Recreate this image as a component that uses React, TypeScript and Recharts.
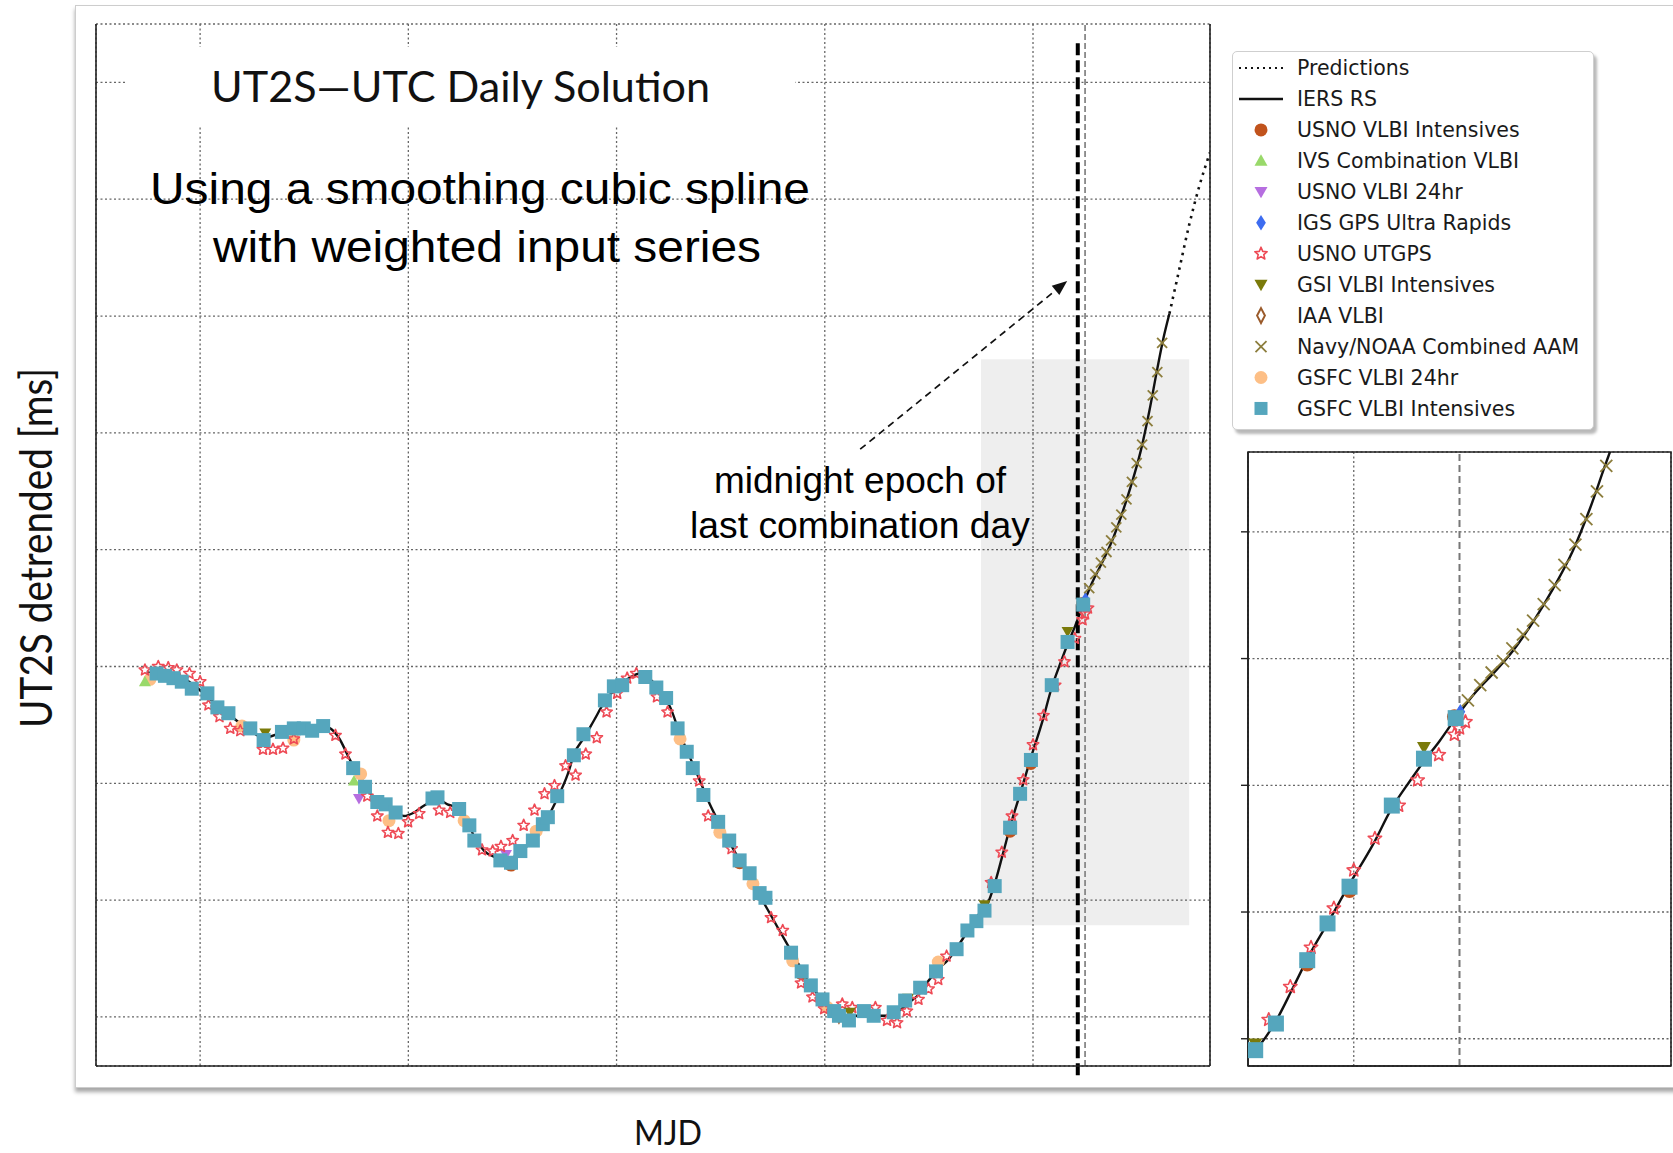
import { ComposedChart, Line, Scatter, XAxis, YAxis, CartesianGrid, ReferenceLine, ReferenceArea } from 'recharts';

type Pt = [number, number];

// MJD, UT2S detrended [ms]
const iersRs: Pt[] = [
  [58797.43, 2.95], [58799.04, 2.91], [58799.84, 2.82], [58800.48, 2.72], [58801.45, 2.58],
  [58802.41, 2.45], [58803.05, 2.39], [58804.01, 2.44], [58804.98, 2.47], [58805.94, 2.49],
  [58806.26, 2.47], [58806.66, 2.39], [58807.23, 2.19], [58807.71, 2.05], [58808.19, 1.91],
  [58808.83, 1.82], [58809.47, 1.75], [58809.79, 1.72], [58810.28, 1.75], [58810.76, 1.81],
  [58811.4, 1.86], [58811.88, 1.82], [58812.44, 1.78], [58812.85, 1.67], [58813.17, 1.54],
  [58813.65, 1.42], [58814.13, 1.37], [58814.77, 1.35], [58815.25, 1.39], [58815.74, 1.47],
  [58816.22, 1.58], [58816.7, 1.71], [58817.18, 1.88], [58817.66, 2.08], [58817.96, 2.25],
  [58818.44, 2.39], [58818.92, 2.54], [58819.4, 2.69], [58819.95, 2.81], [58820.51, 2.89],
  [58821.14, 2.94], [58821.62, 2.89], [58822.1, 2.79], [58822.58, 2.65], [58823.05, 2.42],
  [58823.53, 2.22], [58824.01, 2.02], [58824.48, 1.82], [58824.96, 1.65], [58825.44, 1.49],
  [58825.91, 1.34], [58826.39, 1.19], [58826.87, 1.04], [58827.35, 0.89], [58827.82, 0.74],
  [58828.3, 0.59], [58828.78, 0.44], [58829.25, 0.29], [58829.73, 0.18], [58830.21, 0.09],
  [58830.68, 0.04], [58831.16, 0.01], [58831.64, 0.01], [58832.11, 0.02], [58832.59, 0.01],
  [58833.07, 0.01], [58833.55, 0.05], [58834.02, 0.12], [58834.5, 0.19], [58834.98, 0.31],
  [58835.45, 0.41], [58835.93, 0.49], [58836.41, 0.61], [58836.88, 0.74], [58837.36, 0.87],
  [58837.77, 0.95], [58838.16, 1.14], [58838.56, 1.4], [58838.95, 1.66], [58839.38, 1.91],
  [58839.9, 2.22], [58840.45, 2.53], [58840.9, 2.82], [58841.32, 3.03], [58841.66, 3.19],
  [58842.03, 3.35], [58842.41, 3.53], [58842.82, 3.71], [58843.29, 3.88], [58843.76, 4.06],
  [58844.24, 4.29], [58844.71, 4.55], [58845.18, 4.85], [58845.58, 5.18], [58845.97, 5.55],
  [58846.25, 5.8], [58846.55, 6.02],
];

const predictions: Pt[] = [
  [58846.55, 6.02], [58847.0, 6.38], [58847.5, 6.78], [58848.0, 7.12], [58848.5, 7.4],
];

const gsfcIntensives: Pt[] = [
  [58797.91, 2.94], [58798.31, 2.92], [58798.72, 2.9], [58799.12, 2.87], [58799.6, 2.81],
  [58800.35, 2.77], [58800.83, 2.65], [58801.36, 2.6], [58802.41, 2.47], [58803.05, 2.37],
  [58803.93, 2.44], [58804.5, 2.47], [58804.98, 2.47], [58805.38, 2.45], [58805.91, 2.49],
  [58807.35, 2.13], [58807.92, 1.97], [58808.51, 1.84], [58808.91, 1.82], [58809.39, 1.75],
  [58811.16, 1.87], [58811.4, 1.88], [58812.44, 1.78], [58812.93, 1.64], [58813.17, 1.51],
  [58814.42, 1.34], [58814.93, 1.32], [58815.38, 1.42], [58815.98, 1.51], [58816.46, 1.65],
  [58816.7, 1.71], [58817.15, 1.89], [58817.95, 2.24], [58818.41, 2.42], [58819.44, 2.71],
  [58819.87, 2.83], [58820.27, 2.84], [58821.38, 2.91], [58821.91, 2.82], [58822.38, 2.73],
  [58822.93, 2.47], [58823.37, 2.27], [58823.66, 2.13], [58824.17, 1.9], [58824.88, 1.67],
  [58825.41, 1.51], [58825.91, 1.34], [58826.39, 1.23], [58826.87, 1.06], [58827.15, 1.02],
  [58828.38, 0.55], [58828.89, 0.39], [58829.33, 0.27], [58829.89, 0.15], [58830.45, 0.05],
  [58830.68, 0.01], [58831.16, -0.03], [58831.88, 0.05], [58832.35, 0.01], [58833.31, 0.04],
  [58833.86, 0.14], [58834.58, 0.25], [58835.34, 0.39], [58836.33, 0.58], [58836.85, 0.74],
  [58837.28, 0.82], [58837.67, 0.91], [58838.16, 1.12], [58838.9, 1.62], [58839.38, 1.91],
  [58839.9, 2.2], [58840.9, 2.84], [58841.66, 3.21], [58842.41, 3.53],
];

const usnoUtgps: Pt[] = [
  [58797.35, 2.97], [58797.99, 3.0], [58798.47, 2.99], [58798.88, 2.97], [58799.49, 2.94],
  [58800.0, 2.87], [58800.4, 2.67], [58800.93, 2.57], [58801.45, 2.47], [58801.93, 2.45],
  [58803.02, 2.29], [58803.5, 2.29], [58803.98, 2.3], [58804.5, 2.38], [58806.5, 2.41],
  [58806.98, 2.25], [58808.03, 1.89], [58808.51, 1.72], [58809.02, 1.58], [58809.52, 1.57],
  [58809.99, 1.67], [58810.52, 1.74], [58811.48, 1.77], [58812.01, 1.75], [58813.54, 1.43],
  [58814.05, 1.42], [58814.45, 1.46], [58815.01, 1.51], [58815.54, 1.64], [58816.06, 1.77],
  [58816.54, 1.91], [58817.02, 1.98], [58817.55, 2.15], [58818.03, 2.07], [58818.52, 2.25],
  [58819.05, 2.39], [58819.52, 2.61], [58820.03, 2.77], [58820.51, 2.9], [58820.95, 2.94],
  [58821.94, 2.74], [58822.45, 2.61], [58823.97, 2.02], [58824.4, 1.72], [58825.52, 1.44],
  [58827.42, 0.85], [58827.98, 0.74], [58828.86, 0.29], [58829.41, 0.17], [58829.97, 0.07],
  [58830.84, 0.11], [58831.32, 0.08], [58832.43, 0.08], [58832.99, -0.03], [58833.47, -0.05],
  [58833.94, 0.05], [58834.5, 0.15], [58834.98, 0.24], [58835.45, 0.32], [58835.85, 0.52],
  [58837.99, 1.15], [58838.5, 1.41], [58838.99, 1.72], [58839.53, 2.03], [58840.0, 2.33],
  [58840.5, 2.58], [58841.06, 2.84], [58841.51, 3.04], [58842.01, 3.24], [58842.38, 3.4],
  [58842.5, 3.45], [58842.64, 3.5],
];

const gsfc24hr: Pt[] = [
  [58797.59, 2.89], [58802.01, 2.49], [58804.5, 2.37], [58807.71, 2.08], [58809.07, 1.68],
  [58812.68, 1.68], [58816.14, 1.59], [58823.05, 2.38], [58824.96, 1.58], [58826.55, 1.14],
  [58828.46, 0.48], [58830.13, 0.08], [58835.45, 0.47], [58839.9, 2.19],
];

const usnoIntensives: Pt[] = [
  [58814.93, 1.3], [58825.91, 1.32], [58828.89, 0.37], [58838.9, 1.59], [58839.9, 2.17], [58842.38, 3.54],
];

const ivsCombination: Pt[] = [[58797.35, 2.87], [58807.39, 2.02]];

const usno24hr: Pt[] = [[58807.63, 1.87], [58814.69, 1.39]];

const igsUltra: Pt[] = [[58842.52, 3.58]];

const gsiIntensives: Pt[] = [
  [58803.13, 2.43], [58831.2, 0.04], [58834.0, 0.16], [58837.67, 0.96], [58841.66, 3.3],
];

const iaaVlbi: Pt[] = [[58830.68, 0.01]];

const navyAam: Pt[] = [
  [58842.7, 3.67], [58842.99, 3.79], [58843.26, 3.89], [58843.53, 3.98], [58843.75, 4.08],
  [58844.0, 4.19], [58844.24, 4.3], [58844.49, 4.43], [58844.75, 4.58], [58844.98, 4.74],
  [58845.24, 4.9], [58845.5, 5.1], [58845.75, 5.32], [58845.97, 5.52], [58846.2, 5.77],
];

const mainXDomain = [58795, 58848.5];
const mainYDomain = [-0.42, 8.5];
const mainXTicks = [58800, 58810, 58820, 58830, 58840];
const mainYTicks = [0, 1, 2, 3, 4, 5, 6, 7, 8];
const insetXDomain = [58837.5, 58847.5];
const insetYDomain = [0.785, 5.63];
const insetXTicks = [58840];
const insetYTicks = [1, 2, 3, 4, 5];
const lastCombinationDay = 58842.15;
const predictionEpoch = 58842.5;
const arrowFrom = { x: 58831.7, y: 4.86 };
const arrowTo = { x: 58841.64, y: 6.3 };

type Kind = 'circle' | 'triUp' | 'triDown' | 'diamond' | 'star' | 'openDiamond' | 'x' | 'square';

const C = {
  usnoInt: '#c1531c',
  ivs: '#99d96a',
  usno24: '#b66ee0',
  igs: '#3d6cf0',
  utgps: '#ee4a55',
  gsi: '#7a7a0a',
  iaa: '#9a5a2a',
  navy: '#8c7d3c',
  gsfc24: '#fdbf86',
  gsfcInt: '#55a6bd',
};

// drawing order (back to front)
const scatterSeries: { name: string; data: Pt[]; kind: Kind; color: string }[] = [
  { name: 'GSFC VLBI 24hr', data: gsfc24hr, kind: 'circle', color: C.gsfc24 },
  { name: 'USNO VLBI Intensives', data: usnoIntensives, kind: 'circle', color: C.usnoInt },
  { name: 'IVS Combination VLBI', data: ivsCombination, kind: 'triUp', color: C.ivs },
  { name: 'USNO VLBI 24hr', data: usno24hr, kind: 'triDown', color: C.usno24 },
  { name: 'IGS GPS Ultra Rapids', data: igsUltra, kind: 'diamond', color: C.igs },
  { name: 'IAA VLBI', data: iaaVlbi, kind: 'openDiamond', color: C.iaa },
  { name: 'USNO UTGPS', data: usnoUtgps, kind: 'star', color: C.utgps },
  { name: 'GSI VLBI Intensives', data: gsiIntensives, kind: 'triDown', color: C.gsi },
  { name: 'GSFC VLBI Intensives', data: gsfcIntensives, kind: 'square', color: C.gsfcInt },
  { name: 'Navy/NOAA Combined AAM', data: navyAam, kind: 'x', color: C.navy },
];

const legendItems: { name: string; kind: Kind | 'dotted' | 'solid'; color: string }[] = [
  { name: 'Predictions', kind: 'dotted', color: '#111' },
  { name: 'IERS RS', kind: 'solid', color: '#111' },
  { name: 'USNO VLBI Intensives', kind: 'circle', color: C.usnoInt },
  { name: 'IVS Combination VLBI', kind: 'triUp', color: C.ivs },
  { name: 'USNO VLBI 24hr', kind: 'triDown', color: C.usno24 },
  { name: 'IGS GPS Ultra Rapids', kind: 'diamond', color: C.igs },
  { name: 'USNO UTGPS', kind: 'star', color: C.utgps },
  { name: 'GSI VLBI Intensives', kind: 'triDown', color: C.gsi },
  { name: 'IAA VLBI', kind: 'openDiamond', color: C.iaa },
  { name: 'Navy/NOAA Combined AAM', kind: 'x', color: C.navy },
  { name: 'GSFC VLBI 24hr', kind: 'circle', color: C.gsfc24 },
  { name: 'GSFC VLBI Intensives', kind: 'square', color: C.gsfcInt },
];

const toPts = (a: Pt[]) => a.map(([x, y]) => ({ x, y }));

function starPoints(cx: number, cy: number, r: number) {
  const pts: string[] = [];
  for (let i = 0; i < 10; i++) {
    const a = (-90 + i * 36) * (Math.PI / 180);
    const rr = i % 2 === 0 ? r : r * 0.45;
    pts.push(`${cx + rr * Math.cos(a)},${cy + rr * Math.sin(a)}`);
  }
  return pts.join(' ');
}

function Marker({ kind, cx, cy, s, color }: { kind: Kind; cx: number; cy: number; s: number; color: string }) {
  if (cx == null || cy == null || isNaN(cx) || isNaN(cy)) return <g />;
  const h = s / 2;
  switch (kind) {
    case 'circle':
      return <circle cx={cx} cy={cy} r={h} fill={color} />;
    case 'triUp':
      return <polygon points={`${cx},${cy - h} ${cx + h},${cy + h * 0.75} ${cx - h},${cy + h * 0.75}`} fill={color} />;
    case 'triDown':
      return <polygon points={`${cx - h},${cy - h * 0.75} ${cx + h},${cy - h * 0.75} ${cx},${cy + h}`} fill={color} />;
    case 'diamond':
      return <polygon points={`${cx},${cy - h * 1.2} ${cx + h * 0.75},${cy} ${cx},${cy + h * 1.2} ${cx - h * 0.75},${cy}`} fill={color} />;
    case 'openDiamond':
      return (
        <polygon
          points={`${cx},${cy - h * 1.15} ${cx + h * 0.6},${cy} ${cx},${cy + h * 1.15} ${cx - h * 0.6},${cy}`}
          fill="none"
          stroke={color}
          strokeWidth={2}
        />
      );
    case 'star':
      return <polygon points={starPoints(cx, cy, h)} fill="none" stroke={color} strokeWidth={1.6} strokeLinejoin="round" />;
    case 'x':
      return (
        <g stroke={color} strokeWidth={1.8}>
          <line x1={cx - h} y1={cy - h} x2={cx + h} y2={cy + h} />
          <line x1={cx - h} y1={cy + h} x2={cx + h} y2={cy - h} />
        </g>
      );
    case 'square':
    default:
      return <rect x={cx - h} y={cy - h} width={s} height={s} fill={color} />;
  }
}

const markerSize = (kind: Kind, inset: boolean) => {
  const base: Record<Kind, number> = {
    circle: 13, triUp: 12, triDown: 12, diamond: 11, openDiamond: 12, star: 12, x: 10, square: 14,
  };
  return base[kind] + (inset ? 2 : 0);
};

const Arrow = (p: any) => {
  const { x1, y1, x2, y2 } = p;
  const a = Math.atan2(y2 - y1, x2 - x1);
  const L = 15;
  const w = 6;
  const bx = x2 - L * Math.cos(a);
  const by = y2 - L * Math.sin(a);
  const px = -Math.sin(a) * w;
  const py = Math.cos(a) * w;
  return (
    <g>
      <line x1={x1} y1={y1} x2={bx} y2={by} stroke="#111" strokeWidth={1.7} strokeDasharray="7 5" />
      <polygon points={`${x2},${y2} ${bx + px},${by + py} ${bx - px},${by - py}`} fill="#111" />
    </g>
  );
};

const GRID = '#666';

function SeriesLayers({ inset }: { inset: boolean }) {
  return (
    <>
      <Line
        data={toPts(iersRs)}
        dataKey="y"
        type="monotone"
        stroke="#111"
        strokeWidth={2.4}
        dot={false}
        isAnimationActive={false}
      />
      <Line
        data={toPts(predictions)}
        dataKey="y"
        type="monotone"
        stroke="#111"
        strokeWidth={2.6}
        strokeDasharray="2.5 5"
        dot={false}
        isAnimationActive={false}
      />
      {scatterSeries.map((s) => (
        <Scatter
          key={s.name}
          name={s.name}
          data={toPts(s.data)}
          dataKey="y"
          isAnimationActive={false}
          shape={(p: any) => <Marker kind={s.kind} cx={p.cx} cy={p.cy} s={markerSize(s.kind, inset)} color={s.color} />}
        />
      ))}
    </>
  );
}

function MainChart() {
  return (
    <ComposedChart width={1240} height={1090} margin={{ top: 24, right: 30, bottom: 23, left: 95 }}>
      <CartesianGrid stroke={GRID} strokeDasharray="2 2.5" strokeWidth={1.3} />
      <XAxis
        type="number"
        dataKey="x"
        domain={mainXDomain}
        ticks={mainXTicks}
        allowDataOverflow
        height={1}
        tickLine={false}
        tickFormatter={() => ''}
        axisLine={{ stroke: '#222', strokeWidth: 1.6 }}
      />
      <YAxis
        type="number"
        dataKey="y"
        domain={mainYDomain}
        ticks={mainYTicks}
        allowDataOverflow
        width={1}
        tickLine={false}
        tickFormatter={() => ''}
        axisLine={{ stroke: '#222', strokeWidth: 1.6 }}
      />
      <ReferenceArea x1={insetXDomain[0]} x2={insetXDomain[1]} y1={insetYDomain[0]} y2={insetYDomain[1]} fill="#000" fillOpacity={0.065} stroke="none" />
      <ReferenceLine x={predictionEpoch} stroke="#888" strokeWidth={1.8} strokeDasharray="6 3" />
      <ReferenceLine x={mainXDomain[1]} stroke="#222" strokeWidth={1.6} />
      <SeriesLayers inset={false} />
      <ReferenceLine
        segment={[{ x: lastCombinationDay, y: -0.5 }, { x: lastCombinationDay, y: 8.37 }]}
        ifOverflow="visible"
        stroke="#000"
        strokeWidth={4}
        strokeDasharray="12 5"
      />
      <ReferenceLine segment={[arrowFrom, arrowTo]} ifOverflow="visible" shape={Arrow} />
    </ComposedChart>
  );
}

function InsetChart() {
  return (
    <ComposedChart width={480} height={700} margin={{ top: 52, right: 9, bottom: 33, left: 40 }}>
      <CartesianGrid stroke={GRID} strokeDasharray="2 2.5" strokeWidth={1.3} />
      <XAxis
        type="number"
        dataKey="x"
        domain={insetXDomain}
        ticks={insetXTicks}
        allowDataOverflow
        height={1}
        tickLine={false}
        tickFormatter={() => ''}
        axisLine={{ stroke: '#222', strokeWidth: 1.6 }}
      />
      <YAxis
        type="number"
        dataKey="y"
        domain={insetYDomain}
        ticks={insetYTicks}
        allowDataOverflow
        width={8}
        tickSize={7}
        tickLine={{ stroke: '#222', strokeWidth: 1.4 }}
        tickFormatter={() => ''}
        axisLine={{ stroke: '#222', strokeWidth: 1.6 }}
      />
      <ReferenceLine x={predictionEpoch} stroke="#777" strokeWidth={2} strokeDasharray="7 4" />
      <SeriesLayers inset={true} />
      <ReferenceArea
        x1={insetXDomain[0]}
        x2={insetXDomain[1]}
        y1={insetYDomain[0]}
        y2={insetYDomain[1]}
        fill="none"
        stroke="#222"
        strokeWidth={1.6}
      />
    </ComposedChart>
  );
}

function LegendBox() {
  const rowH = 30.95;
  return (
    <div
      style={{
        position: 'absolute',
        left: 1232,
        top: 51,
        width: 362,
        height: 379,
        boxSizing: 'border-box',
        border: '1.5px solid #cfcfcf',
        borderRadius: 5,
        background: '#fff',
        boxShadow: '3px 4px 3px rgba(0,0,0,0.28)',
      }}
    >
      <svg width={360} height={377} style={{ position: 'absolute', left: 0, top: 0 }}>
        {legendItems.map((it, i) => {
          const cy = 16 + i * rowH;
          let mark: any;
          if (it.kind === 'dotted') {
            mark = <line x1={6} y1={cy} x2={50} y2={cy} stroke={it.color} strokeWidth={2.2} strokeDasharray="2 4" />;
          } else if (it.kind === 'solid') {
            mark = <line x1={6} y1={cy} x2={50} y2={cy} stroke={it.color} strokeWidth={2.4} />;
          } else {
            mark = <Marker kind={it.kind} cx={28} cy={cy} s={it.kind === 'x' ? 11 : 13} color={it.color} />;
          }
          return (
            <g key={it.name}>
              {mark}
              <text x={64} y={cy} dy="0.36em" fontFamily="DejaVu Sans" fontSize={20.5} fill="#1a1a1a">
                {it.name}
              </text>
            </g>
          );
        })}
      </svg>
    </div>
  );
}

export default function App() {
  return (
    <div
      style={{
        position: 'absolute',
        left: 0,
        top: 0,
        width: 1673,
        height: 1153,
        background: '#fff',
        overflow: 'hidden',
        fontFamily: 'DejaVu Sans',
      }}
    >
      <div
        style={{
          position: 'absolute',
          left: 75,
          top: 5,
          width: 1640,
          height: 1081,
          border: '1px solid #cdcdcd',
          boxShadow: '0 4px 4px rgba(0,0,0,0.35)',
          background: '#fff',
        }}
      />
      <div style={{ position: 'absolute', left: 0, top: 0 }}>
        <MainChart />
      </div>
      <div style={{ position: 'absolute', left: 1200, top: 400 }}>
        <InsetChart />
      </div>
      <svg width={1673} height={1153} style={{ position: 'absolute', left: 0, top: 0, pointerEvents: 'none' }}>
        <rect x={125} y={47} width={670} height={78} fill="#fff" />
        <text x={211} y={102} fontFamily="Lato" fontSize={42} fill="#111" textLength={499} lengthAdjust="spacingAndGlyphs">
          UT2S—UTC Daily Solution
        </text>
        <text x={150} y={204} fontFamily="Liberation Sans" fontSize={45} fill="#000" textLength={660} lengthAdjust="spacingAndGlyphs">
          Using a smoothing cubic spline
        </text>
        <text x={213} y={262} fontFamily="Liberation Sans" fontSize={45} fill="#000" textLength={548} lengthAdjust="spacingAndGlyphs">
          with weighted input series
        </text>
        <text x={714} y={493} fontFamily="Liberation Sans" fontSize={37} fill="#000" textLength={292} lengthAdjust="spacingAndGlyphs">
          midnight epoch of
        </text>
        <text x={690} y={538} fontFamily="Liberation Sans" fontSize={37} fill="#000" textLength={340} lengthAdjust="spacingAndGlyphs">
          last combination day
        </text>
        <g transform="translate(52,548) rotate(-90)">
          <text x={0} y={0} textAnchor="middle" fontFamily="Lato" fontSize={44} fill="#111" textLength={360} lengthAdjust="spacingAndGlyphs">
            UT2S detrended [ms]
          </text>
        </g>
        <text x={634} y={1145} fontFamily="Lato" fontSize={34} fill="#111" textLength={68} lengthAdjust="spacingAndGlyphs">
          MJD
        </text>
      </svg>
      <LegendBox />
    </div>
  );
}
